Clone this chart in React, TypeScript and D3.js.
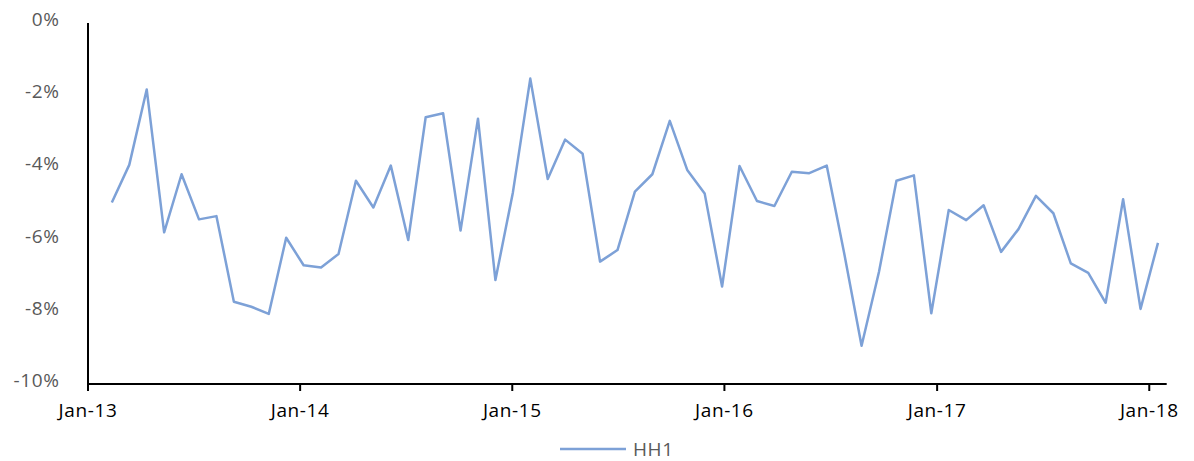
import React, { useEffect } from 'react';
import * as d3 from 'd3';

// HH1 series, one value every ~30 days starting Feb 2013 (percent)
const hh1: number[] = [
  -4.97, -3.93, -1.84, -5.80, -4.19, -5.44, -5.35, -7.72, -7.86, -8.06,
  -5.95, -6.71, -6.77, -6.40, -4.37, -5.11, -3.95, -6.01, -2.61, -2.50,
  -5.75, -2.65, -7.12, -4.70, -1.54, -4.32, -3.23, -3.62, -6.61, -6.29,
  -4.67, -4.19, -2.71, -4.07, -4.72, -7.30, -3.96, -4.93, -5.07, -4.12,
  -4.16, -3.95, -6.37, -8.94, -6.89, -4.37, -4.22, -8.04, -5.18, -5.46,
  -5.05, -6.34, -5.71, -4.79, -5.27, -6.66, -6.92, -7.75, -4.88, -7.92,
  -6.09,
];
const firstDate = new Date(2013, 1, 11);
const dates: Date[] = hh1.map((_, i) => d3.timeDay.offset(firstDate, i * 30));

const yTicks: number[] = [0, -2, -4, -6, -8, -10];
const xTicks: Date[] = [2013, 2014, 2015, 2016, 2017, 2018].map((y) => new Date(y, 0, 1));
const seriesName = 'HH1';

const W = 1194;
const H = 461;
const font = "'Open Sans', sans-serif";
const labelColor = '#595959';
const lineColor = '#7DA1D7';

export default function App() {
  useEffect(() => {
    document.body.style.margin = '0';
  }, []);

  const x = d3.scaleTime()
    .domain([new Date(2013, 0, 1), new Date(2018, 0, 31)])
    .range([88, 1166.7]);
  const y = d3.scaleLinear().domain([-10, 0]).range([384, 23]);

  const line = d3.line<number>()
    .x((_, i) => x(dates[i]))
    .y((d) => y(d));

  const fmt = d3.timeFormat('%b-%y');

  return (
    <svg width={W} height={H} style={{ display: 'block', position: 'absolute', left: 0, top: 0 }}>
      <rect width={W} height={H} fill="#fff" />
      {/* y axis labels */}
      {yTicks.map((t) => (
        <text key={t} x={59.5} y={y(t) + 3} textAnchor="end" fontFamily={font} fontSize={19}
          fill={labelColor} letterSpacing={0.6}>
          {t + '%'}
        </text>
      ))}
      {/* axes */}
      <line x1={88} x2={88} y1={y(0)} y2={y(-10) + 1} stroke="#000" strokeWidth={2} />
      <line x1={87} x2={1166.7} y1={y(-10)} y2={y(-10)} stroke="#000" strokeWidth={2} />
      {xTicks.map((t) => (
        <g key={t.getTime()}>
          <line x1={x(t)} x2={x(t)} y1={y(-10)} y2={y(-10) + 7} stroke="#000" strokeWidth={2} />
          <text x={x(t)} y={417} textAnchor="middle" fontFamily={font} fontSize={19}
            fill="#000" letterSpacing={0.6}>
            {fmt(t)}
          </text>
        </g>
      ))}
      <path d={line(hh1) || ''} fill="none" stroke={lineColor} strokeWidth={2.5}
        strokeLinejoin="round" />
      {/* legend */}
      <line x1={560} x2={626} y1={449} y2={449} stroke={lineColor} strokeWidth={2.5} />
      <text x={633} y={455.5} fontFamily={font} fontSize={19} fill={labelColor} letterSpacing={0.6}>
        {seriesName}
      </text>
    </svg>
  );
}
